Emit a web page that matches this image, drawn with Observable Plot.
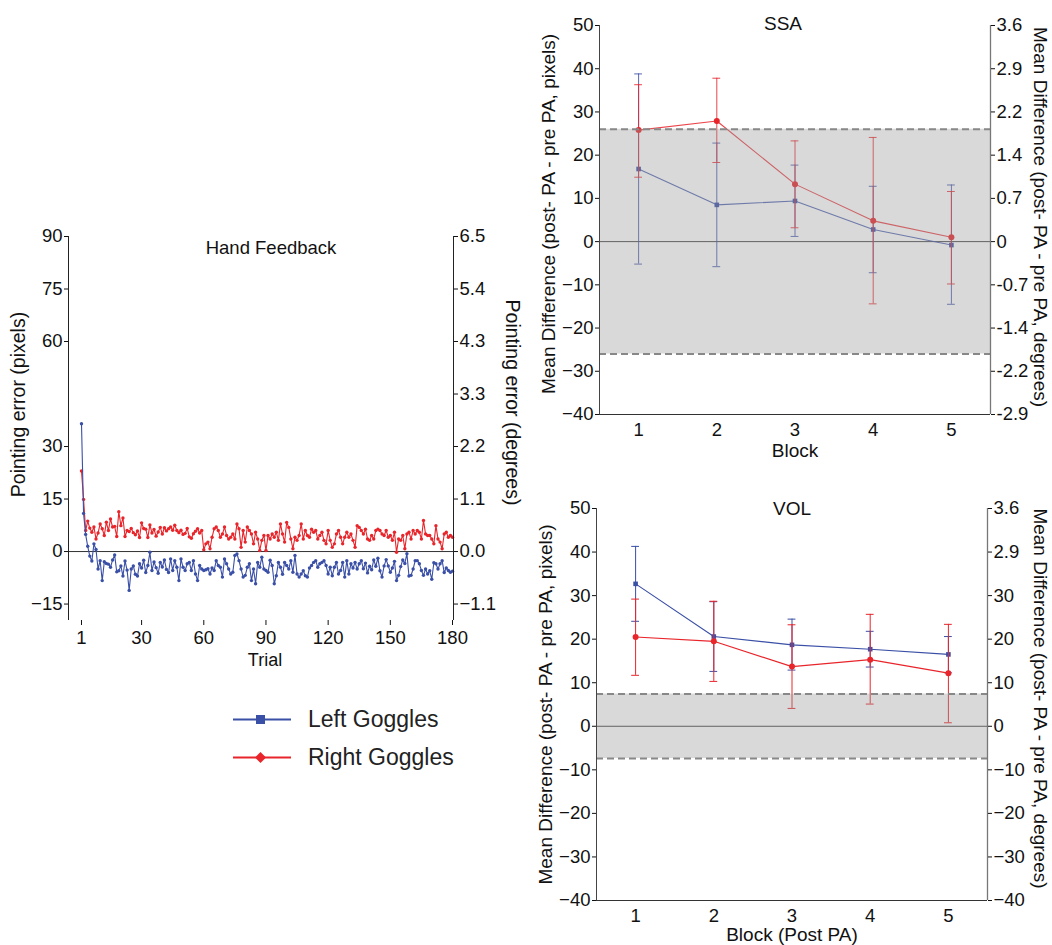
<!DOCTYPE html>
<html><head><meta charset="utf-8">
<script src="https://cdn.jsdelivr.net/npm/d3@7"></script>
<script src="https://cdn.jsdelivr.net/npm/@observablehq/plot@0.6"></script>
<style>
body{margin:0;background:#fff;}
#root{position:relative;width:1052px;height:945px;overflow:hidden;font-family:"Liberation Sans",Arial,Helvetica,sans-serif;}
.panel{position:absolute;}
#legend{position:absolute;left:230px;top:700px;color:#222;font-size:23px;}
#legend .row{display:flex;align-items:center;height:38px;}
#legend svg{margin-right:16px;}
</style></head><body><div id="root">
<div class="panel" id="hand" style="left:0;top:220px"></div>
<div class="panel" id="ssa" style="left:530px;top:0"></div>
<div class="panel" id="vol" style="left:530px;top:480px"></div>
<div id="legend"></div>
</div>
<script>
// ---------- data ----------
const seriesNames = ["Left Goggles", "Right Goggles"];
const seriesColors = ["#3a4fa6", "#e8252b"];

// Hand Feedback: pointing error per trial (pixels), trials 1..180
const handLeft = [
 36.5, 10.9, 4.9, 1.5, -1.3, -2.7, 2.2, 0.6, -5.0, -2.6,
 -8.3, -2.9, -3.4, -3.6, -4.5, -2.4, -1.0, -5.8, -5.5, -4.1,
 -7.0, -2.7, -5.3, -11.1, -5.0, -4.1, -6.5, -7.0, -3.5, -4.7,
 -2.5, -6.0, -4.0, -0.2, -5.4, -3.0, -4.6, -6.2, -3.1, -4.4,
 -2.4, -5.1, -6.0, -2.1, -5.4, -2.6, -4.5, -8.3, -2.1, -4.5,
 -5.4, -3.5, -3.1, -5.4, -2.6, -6.4, -8.3, -4.0, -5.0, -5.4,
 -5.2, -4.9, -6.4, -4.7, -5.4, -2.6, -4.0, -4.5, -7.3, -2.1,
 -3.5, -5.0, -6.4, -5.9, -1.1, -0.7, -2.6, -5.0, -7.3, -6.8,
 -4.5, -3.5, -8.3, -5.0, -9.2, -3.1, -4.5, -1.6, -5.0, -5.4,
 -5.9, -2.5, -4.0, -9.2, -6.9, -3.1, -4.5, -6.5, -3.1, -4.0,
 -5.0, -2.6, -5.9, -1.1, -6.4, -7.3, -6.4, -5.5, -6.9, -7.3,
 -4.7, -4.0, -3.1, -2.6, -4.5, -3.5, -3.1, -2.6, -4.0, -6.4,
 -4.5, -6.9, -4.5, -3.1, -6.4, -5.4, -3.1, -7.3, -2.6, -6.4,
 -3.5, -4.7, -3.1, -5.0, -3.5, -2.6, -4.9, -3.3, -6.1, -4.2,
 -5.2, -2.4, -4.2, -1.9, -5.5, -7.3, -4.1, -2.3, -4.1, -5.9,
 -4.7, -2.8, -8.3, -6.8, -4.3, -2.4, -3.4, -0.6, -7.0, -6.8,
 -5.0, -2.6, -2.6, -3.5, -5.4, -6.8, -5.0, -6.4, -5.5, -7.9,
 -3.2, -3.5, -5.0, -3.5, -2.6, -6.0, -4.7, -5.4, -5.9, -5.6
];
const handRight = [
 23.0, 14.9, 6.0, 8.7, 6.7, 5.5, 7.0, 3.6, 5.3, 7.9,
 6.5, 4.6, 8.4, 6.0, 9.3, 7.0, 7.2, 4.3, 11.4, 7.4,
 9.6, 4.3, 6.0, 5.7, 6.6, 5.4, 4.8, 5.9, 4.0, 8.2,
 6.6, 6.4, 4.0, 7.6, 5.3, 6.3, 4.4, 5.6, 6.9, 5.0,
 6.8, 5.9, 6.5, 7.0, 6.1, 7.5, 6.0, 5.4, 6.1, 4.9,
 5.2, 6.6, 4.2, 3.8, 5.1, 5.8, 6.5, 5.3, 6.0, 0.5,
 2.2, 2.7, 0.8, 4.1, 6.5, 7.0, 6.0, 4.1, 5.0, 7.0,
 4.6, 3.6, 4.1, 5.0, 3.6, 7.9, 6.5, 1.2, 6.0, 2.7,
 7.0, 6.0, 5.0, 2.2, 5.5, 3.6, 0.3, 3.2, 4.6, 0.3,
 4.6, 3.6, 5.0, 4.1, 5.5, 3.2, 7.9, 5.0, 2.7, 8.3,
 6.9, 3.6, 0.8, 4.1, 3.2, 4.6, 7.9, 3.6, 6.0, 4.6,
 4.1, 6.4, 5.5, 6.0, 3.6, 4.6, 5.5, 3.2, 2.2, 6.0,
 3.2, 1.2, 2.2, 5.0, 6.0, 4.1, 2.2, 4.1, 5.5, 4.1,
 5.0, 3.2, 1.2, 7.4, 6.9, 6.0, 5.0, 6.4, 3.6, 3.2,
 4.6, 3.6, 6.0, 6.4, 6.0, 5.0, 4.6, 6.0, 4.1, 4.6,
 3.2, 5.5, -0.2, 3.6, 3.2, 4.6, 0.8, 5.0, 5.5, 3.6,
 6.0, 5.0, 6.0, 5.5, 3.6, 8.9, 5.0, 4.6, 4.6, 3.6,
 2.2, 7.4, 3.6, 2.7, 0.8, 5.0, 5.5, 4.1, 4.6, 4.1
];
const handTicks = [90, 75, 60, 30, 15, 0, -15];
const handTickLabels = ["90", "75", "60", "30", "15", "0", "\u221215"];
const handDegTicks = [90, 75, 60, 45, 30, 15, 0, -15];
const handDegLabels = ["6.5", "5.4", "4.3", "3.3", "2.2", "1.1", "0.0", "\u22121.1"];
const trialTicks = [1, 30, 60, 90, 120, 150, 180];
const handXDomain = [-5.27, 180.48];
const handYDomain = [-19.7, 90];

// Blocks
const blocks = [1, 2, 3, 4, 5];
const blockDomain = [0.5, 5.5];
const diffDomain = [-40, 50];
const diffTicks = [50, 40, 30, 20, 10, 0, -10, -20, -30, -40];
const diffTickLabels = ["50", "40", "30", "20", "10", "0", "\u221210", "\u221220", "\u221230", "\u221240"];

// SSA
const ssaLeftMean = [16.8, 8.5, 9.4, 2.8, -0.8];
const ssaLeftLo = [-5.2, -5.8, 1.2, -7.2, -14.5];
const ssaLeftHi = [38.8, 22.8, 17.7, 12.8, 13.1];
const ssaRightMean = [25.8, 27.9, 13.3, 4.8, 1.0];
const ssaRightLo = [14.9, 18.3, 3.2, -14.4, -9.8];
const ssaRightHi = [36.3, 37.8, 23.3, 24.1, 11.6];
const ssaBand = [-26, 26];
const ssaDegLabels = ["3.6", "2.9", "2.2", "1.4", "0.7", "0", "-0.7", "-1.4", "-2.2", "-2.9"];

// VOL
const volLeftMean = [32.7, 20.6, 18.7, 17.7, 16.5];
const volLeftLo = [24.1, 12.6, 12.9, 13.6, 12.3];
const volLeftHi = [41.3, 28.6, 24.6, 21.8, 20.6];
const volRightMean = [20.5, 19.5, 13.7, 15.3, 12.2];
const volRightLo = [11.7, 10.3, 4.1, 5.1, 0.8];
const volRightHi = [29.2, 28.7, 23.3, 25.7, 23.4];
const volBand = [-7.4, 7.4];
const volDegLabels = ["3.6", "2.9", "30", "20", "10", "0", "\u221210", "\u221220", "\u221230", "\u221240"];

// ---------- helpers ----------
const FONT = "'Liberation Sans', Arial, Helvetica, sans-serif";
const labelOf = (ticks, labels) => d => labels[ticks.indexOf(d)];
const TICK_FS = 18.5;

// ---------- Hand Feedback ----------
const handData = [
  ...handLeft.map((v, i) => ({trial: i + 1, v, s: 0})),
  ...handRight.map((v, i) => ({trial: i + 1, v, s: 1}))
];
const hand = Plot.plot({
  width: 530, height: 460,
  marginLeft: 68, marginRight: 77, marginTop: 16, marginBottom: 60,
  x: {domain: handXDomain},
  y: {domain: handYDomain},
  style: {fontFamily: FONT, fontSize: "18px", color: "#111", background: "transparent"},
  marks: [
    Plot.ruleY([0], {stroke: "#333", strokeWidth: 1}),
    Plot.line(handData.filter(d => d.s === 1), {x: "trial", y: "v", stroke: seriesColors[1], strokeWidth: 1.1}),
    Plot.dot(handData.filter(d => d.s === 1), {x: "trial", y: "v", fill: seriesColors[1], r: 1.7}),
    Plot.line(handData.filter(d => d.s === 0), {x: "trial", y: "v", stroke: seriesColors[0], strokeWidth: 1.1}),
    Plot.dot(handData.filter(d => d.s === 0), {x: "trial", y: "v", fill: seriesColors[0], r: 1.7}),
    Plot.ruleX([handXDomain[0]], {stroke: "#222"}),
    Plot.ruleX([handXDomain[1]], {stroke: "#222"}),
    Plot.axisY({anchor: "left", ticks: handTicks, tickFormat: labelOf(handTicks, handTickLabels), tickSize: 4, tickPadding: 2, label: null, fontSize: TICK_FS}),
    Plot.axisY({anchor: "right", ticks: handDegTicks, tickFormat: labelOf(handDegTicks, handDegLabels), tickSize: 4, tickPadding: 2, label: null, fontSize: TICK_FS}),
    Plot.axisX({ticks: trialTicks, tickFormat: d => String(d), tickSize: 5, tickPadding: 5, label: null, fontSize: TICK_FS}),
    Plot.text(["Hand Feedback"], {frameAnchor: "top", dx: 10, dy: 12, fontSize: 18.5, textAnchor: "middle", lineAnchor: "middle"}),
    Plot.text(["Trial"], {frameAnchor: "bottom", dx: 4, dy: 40, fontSize: 18, textAnchor: "middle", lineAnchor: "middle"}),
    Plot.text(["Pointing error (pixels)"], {frameAnchor: "left", rotate: -90, dx: -50, dy: -24, fontSize: 19.5, textAnchor: "middle", lineAnchor: "middle"}),
    Plot.text(["Pointing error (degrees)"], {frameAnchor: "right", rotate: 90, dx: 59, dy: -26, fontSize: 19.5, textAnchor: "middle", lineAnchor: "middle"})
  ]
});
document.getElementById("hand").append(hand);

// ---------- block panels ----------
function blockPanel({title, titleDx, titleDy, xLabel, leftMean, leftLo, leftHi, rightMean, rightLo, rightHi, band, degLabels,
                     width, height, mL, mR, mT, mB, xLabelDy, tickPad, yLabDy, yLabDx, rLabDx, rLabDy, light}) {
  const rows = [];
  blocks.forEach((b, i) => {
    rows.push({block: b, s: 0, mean: leftMean[i], lo: leftLo[i], hi: leftHi[i]});
    rows.push({block: b, s: 1, mean: rightMean[i], lo: rightLo[i], hi: rightHi[i]});
  });
  const capW = 0.05;
  const op = light;
  const seriesMarks = s => {
    const d = rows.filter(r => r.s === s);
    const c = seriesColors[s];
    return [
      Plot.ruleX(d, {x: "block", y1: "lo", y2: "hi", stroke: c, strokeWidth: 1, strokeOpacity: op}),
      Plot.ruleY(d, {y: "hi", x1: r => r.block - capW, x2: r => r.block + capW, stroke: c, strokeWidth: 1, strokeOpacity: op}),
      Plot.ruleY(d, {y: "lo", x1: r => r.block - capW, x2: r => r.block + capW, stroke: c, strokeWidth: 1, strokeOpacity: op}),
      Plot.line(d, {x: "block", y: "mean", stroke: c, strokeWidth: 1.1, strokeOpacity: op}),
      Plot.dot(d, {x: "block", y: "mean", fill: c, r: s === 0 ? 2.6 : 3, symbol: s === 0 ? "square" : "circle"})
    ];
  };
  return Plot.plot({
    width, height, marginLeft: mL, marginRight: mR, marginTop: mT, marginBottom: mB,
    x: {domain: blockDomain},
    y: {domain: diffDomain},
    style: {fontFamily: FONT, fontSize: "18px", color: "#111", background: "transparent"},
    marks: [
      Plot.ruleY([0], {stroke: "#444", strokeWidth: 1}),
      ...seriesMarks(0),
      ...seriesMarks(1),
      Plot.rect([band], {x1: blockDomain[0], x2: blockDomain[1], y1: d => d[0], y2: d => d[1], fill: "#999", fillOpacity: 0.37}),
      Plot.ruleY(band, {stroke: "#888", strokeWidth: 2, strokeDasharray: "7,4"}),
      Plot.ruleX([blockDomain[0]], {stroke: "#444"}),
      Plot.ruleX([blockDomain[1]], {stroke: "#777", strokeWidth: 1.3}),
      Plot.ruleY([diffDomain[0]], {stroke: "#333"}),
      Plot.axisY({anchor: "left", ticks: diffTicks, tickFormat: labelOf(diffTicks, diffTickLabels), tickSize: 4, tickPadding: 2, label: null, fontSize: TICK_FS}),
      Plot.axisY({anchor: "right", ticks: diffTicks, tickFormat: labelOf(diffTicks, degLabels), tickSize: 4, tickPadding: 2, label: null, fontSize: TICK_FS}),
      Plot.axisX({ticks: blocks, tickFormat: d => String(d), tickSize: 0, tickPadding: tickPad, label: null, fontSize: TICK_FS}),
      Plot.text([title], {frameAnchor: "top", dx: titleDx, dy: titleDy, fontSize: 19, textAnchor: "middle", lineAnchor: "middle"}),
      Plot.text([xLabel], {frameAnchor: "bottom", dy: xLabelDy, fontSize: 19, textAnchor: "middle", lineAnchor: "middle"}),
      Plot.text(["Mean Difference (post- PA - pre PA, pixels)"], {frameAnchor: "left", rotate: -90, dx: yLabDx, dy: yLabDy, fontSize: 19, textAnchor: "middle", lineAnchor: "middle"}),
      Plot.text(["Mean Difference (post- PA - pre PA, degrees)"], {frameAnchor: "right", rotate: 90, dx: rLabDx, dy: rLabDy, fontSize: 19, textAnchor: "middle", lineAnchor: "middle"})
    ]
  });
}

document.getElementById("ssa").append(blockPanel({
  title: "SSA", titleDx: -12, titleDy: -2, xLabel: "Block",
  leftMean: ssaLeftMean, leftLo: ssaLeftLo, leftHi: ssaLeftHi,
  rightMean: ssaRightMean, rightLo: ssaRightLo, rightHi: ssaRightHi,
  band: ssaBand, degLabels: ssaDegLabels,
  width: 522, height: 470, mL: 69, mR: 62, mT: 25, mB: 56,
  xLabelDy: 36, tickPad: 8, yLabDx: -51, yLabDy: -6, rLabDx: 50, rLabDy: -3, light: 0.85
}));

document.getElementById("vol").append(blockPanel({
  title: "VOL", titleDx: 0, titleDy: 0, xLabel: "Block (Post PA)",
  leftMean: volLeftMean, leftLo: volLeftLo, leftHi: volLeftHi,
  rightMean: volRightMean, rightLo: volRightLo, rightHi: volRightHi,
  band: volBand, degLabels: volDegLabels,
  width: 522, height: 465, mL: 66, mR: 65, mT: 28, mB: 45,
  xLabelDy: 34, tickPad: 8, yLabDx: -51, yLabDy: 0, rLabDx: 53, rLabDy: -6, light: 1
}));

// ---------- legend ----------
const legend = document.getElementById("legend");
seriesNames.forEach((name, i) => {
  const row = document.createElement("div");
  row.className = "row";
  const mk = i === 0
    ? `<rect x="26" y="6" width="9" height="9" fill="${seriesColors[i]}"/>`
    : `<path d="M30.5 5 L36 10.5 L30.5 16 L25 10.5 Z" fill="${seriesColors[i]}"/>`;
  row.innerHTML = `<svg width="62" height="21"><line x1="3" x2="61" y1="10.5" y2="10.5" stroke="${seriesColors[i]}" stroke-width="2"/>${mk}</svg><span>${name}</span>`;
  legend.append(row);
});
</script>
</body></html>
